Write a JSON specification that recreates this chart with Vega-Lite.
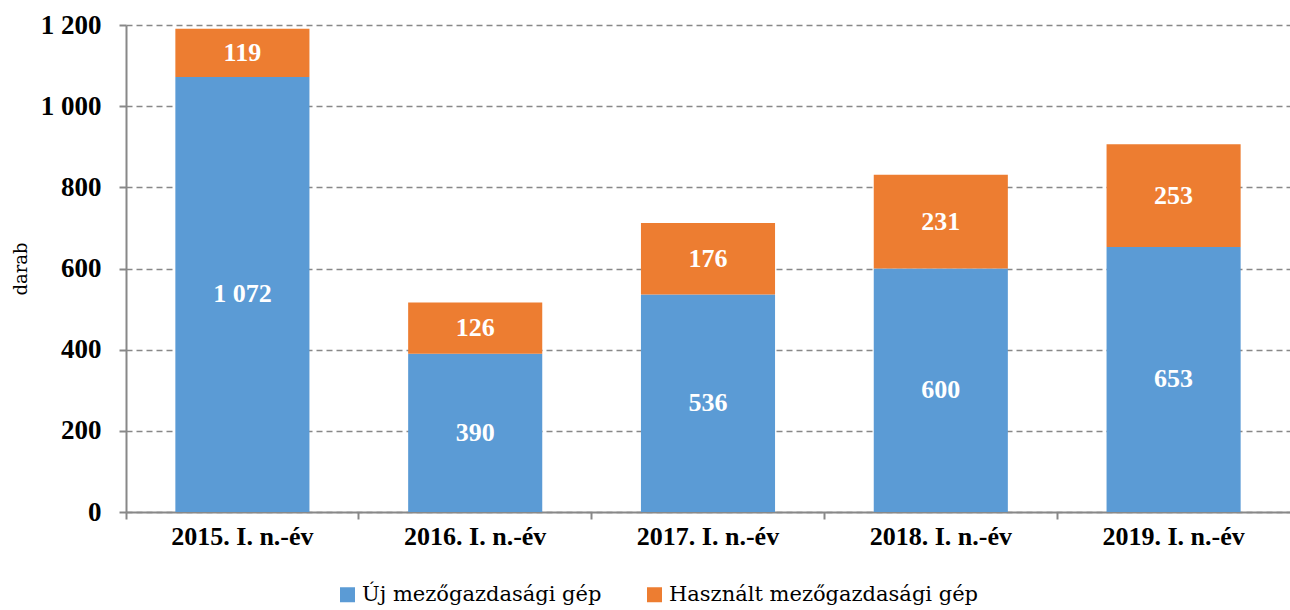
{
  "$schema": "https://vega.github.io/schema/vega-lite/v6.json",
  "autosize": "none",
  "padding": {"left": 126, "top": 25, "right": 0, "bottom": 98},
  "width": 1164,
  "height": 487,
  "background": "white",
  "config": {
    "locale": {"number": {"decimal": ",", "thousands": " ", "grouping": [3], "currency": ["", ""]}},
    "view": {"stroke": null},
    "font": "Liberation Serif",
    "axis": {"labelFont": "Liberation Serif", "titleFont": "DejaVu Serif"},
    "legend": {"labelFont": "DejaVu Serif", "titleFont": "DejaVu Serif"},
    "text": {"font": "Liberation Serif"}
  },
  "data": {
    "values": [
      {"ev": "2015. I. n.-év", "tipus": "Új mezőgazdasági gép", "sor": 1, "darab": 1072},
      {"ev": "2015. I. n.-év", "tipus": "Használt mezőgazdasági gép", "sor": 2, "darab": 119},
      {"ev": "2016. I. n.-év", "tipus": "Új mezőgazdasági gép", "sor": 1, "darab": 390},
      {"ev": "2016. I. n.-év", "tipus": "Használt mezőgazdasági gép", "sor": 2, "darab": 126},
      {"ev": "2017. I. n.-év", "tipus": "Új mezőgazdasági gép", "sor": 1, "darab": 536},
      {"ev": "2017. I. n.-év", "tipus": "Használt mezőgazdasági gép", "sor": 2, "darab": 176},
      {"ev": "2018. I. n.-év", "tipus": "Új mezőgazdasági gép", "sor": 1, "darab": 600},
      {"ev": "2018. I. n.-év", "tipus": "Használt mezőgazdasági gép", "sor": 2, "darab": 231},
      {"ev": "2019. I. n.-év", "tipus": "Új mezőgazdasági gép", "sor": 1, "darab": 653},
      {"ev": "2019. I. n.-év", "tipus": "Használt mezőgazdasági gép", "sor": 2, "darab": 253}
    ]
  },
  "resolve": {"axis": {"x": "independent"}},
  "layer": [
    {
      "mark": {"type": "bar"},
      "encoding": {
        "x": {
          "field": "ev", "type": "nominal", "title": null,
          "scale": {"paddingInner": 0.424, "paddingOuter": 0.212},
          "axis": {
            "orient": "bottom", "labels": false, "tickSize": 7, "tickColor": "#888888", "tickWidth": 2,
            "domainColor": "#888888", "domainWidth": 2, "bandPosition": -0.368, "ticks": true, "grid": false
          }
        },
        "y": {
          "field": "darab", "type": "quantitative", "stack": "zero",
          "scale": {"domain": [0, 1200], "nice": false},
          "axis": {
            "title": "darab", "titleFontSize": 18, "titleFontWeight": "normal",
            "titleColor": "black", "titlePadding": 10,
            "values": [0, 200, 400, 600, 800, 1000, 1200], "format": ",d",
            "labelFontSize": 27, "labelFontWeight": "bold", "labelColor": "black",
            "labelPadding": 18, "tickSize": 7, "tickColor": "#888888", "tickWidth": 2,
            "domainColor": "#888888", "domainWidth": 2,
            "grid": true, "gridColor": "#888888", "gridDash": [6, 4], "gridWidth": 1.5
          }
        },
        "order": {"field": "sor", "type": "quantitative"},
        "color": {
          "field": "tipus", "type": "nominal",
          "scale": {"domain": ["Új mezőgazdasági gép", "Használt mezőgazdasági gép"], "range": ["#5B9BD5", "#ED7D31"]},
          "legend": {
            "title": null, "orient": "none", "direction": "horizontal", "legendX": 211, "legendY": 559,
            "symbolType": "square", "symbolSize": 225, "symbolStrokeWidth": 0,
            "labelFontSize": 21, "labelColor": "black", "labelOffset": 4, "columnPadding": 42, "labelLimit": 500
          }
        }
      }
    },
    {
      "mark": {"type": "text", "color": "white", "fontSize": 26, "fontWeight": "bold", "baseline": "middle"},
      "encoding": {
        "x": {
          "field": "ev", "type": "nominal", "title": null,
          "axis": {
            "orient": "bottom", "labelAngle": 0, "labelFontSize": 26, "labelFontWeight": "bold",
            "labelColor": "black", "labelPadding": 11, "ticks": false, "domain": false, "grid": false, "labelLimit": 300
          }
        },
        "y": {"field": "darab", "type": "quantitative", "stack": "zero", "bandPosition": 0.5},
        "order": {"field": "sor", "type": "quantitative"},
        "text": {"field": "darab", "type": "quantitative", "format": ",d"}
      }
    }
  ]
}
